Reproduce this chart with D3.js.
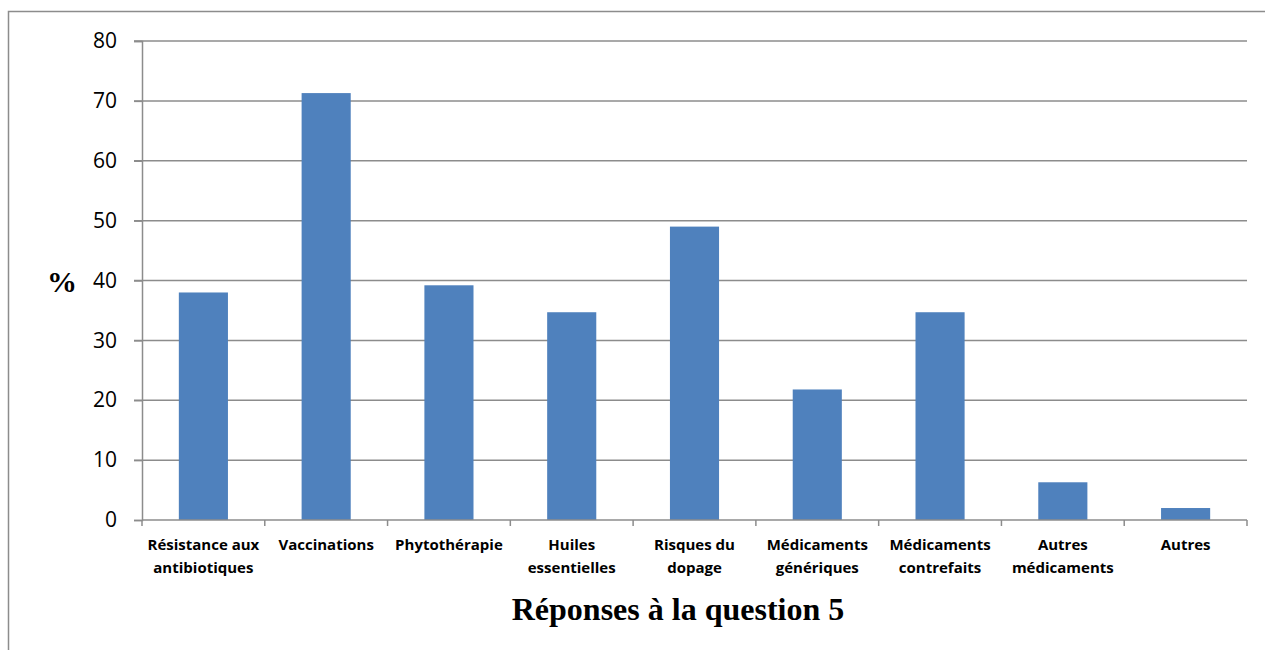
<!DOCTYPE html>
<html>
<head>
<meta charset="utf-8">
<script src="https://cdn.jsdelivr.net/npm/d3@7"></script>
<style>
  body { margin: 0; background: #fff; }
  svg { display: block; }
</style>
</head>
<body>
<svg id="chart" width="1265" height="650"></svg>
<script>
// categories (x axis), with line breaks as in the picture
const categories = [
    ["Résistance aux", "antibiotiques"],
    ["Vaccinations"],
    ["Phytothérapie"],
    ["Huiles", "essentielles"],
    ["Risques du", "dopage"],
    ["Médicaments", "génériques"],
    ["Médicaments", "contrefaits"],
    ["Autres", "médicaments"],
    ["Autres"]
];
const values = [38, 71.3, 39.2, 34.7, 49, 21.8, 34.7, 6.3, 2];
const yTicks = [0, 10, 20, 30, 40, 50, 60, 70, 80];
const title = "Réponses à la question 5";

let svg = d3.select("#chart");

// outer frame
svg.append("rect")
    .attr("x", 8.5).attr("y", 11.5)
    .attr("width", 1270).attr("height", 650)
    .attr("fill", "none")
    .attr("stroke", "#8c8c8c")
    .attr("stroke-width", 1.5);

let plotLeft = 142, plotRight = 1247, plotTop = 41, plotBottom = 520;

let x = d3.scaleBand()
    .domain(d3.range(categories.length))
    .range([plotLeft, plotRight])
    .paddingInner(0.6)
    .paddingOuter(0.3);

let y = d3.scaleLinear()
    .domain([0, 80])
    .range([plotBottom, plotTop]);

// gridlines
svg.append("g")
    .selectAll("line")
    .data(yTicks.filter(d => d > 0))
    .join("line")
    .attr("x1", plotLeft - 8).attr("x2", plotRight)
    .attr("y1", d => y(d)).attr("y2", d => y(d))
    .attr("stroke", "#8c8c8c")
    .attr("stroke-width", 1.5);

// bars
svg.append("g")
    .selectAll("rect")
    .data(values)
    .join("rect")
    .attr("x", (d, i) => x(i))
    .attr("y", d => y(d))
    .attr("width", x.bandwidth())
    .attr("height", d => plotBottom - y(d))
    .attr("fill", "#4f81bd");

// y axis
let yAxis = svg.append("g")
    .attr("transform", `translate(${plotLeft},0)`)
    .call(d3.axisLeft(y).tickValues(yTicks).tickSize(8).tickPadding(17));
yAxis.select(".domain").attr("stroke", "#8c8c8c").attr("stroke-width", 1.5);
yAxis.selectAll(".tick line").attr("stroke", "#8c8c8c").attr("stroke-width", 1.5);
yAxis.selectAll(".tick text")
    .attr("font-family", "'Open Sans', sans-serif")
    .attr("font-size", 21)
    .attr("fill", "#000");

// x axis (ticks at band boundaries)
let n = categories.length;
let xBase = svg.append("g");
xBase.append("line")
    .attr("x1", plotLeft).attr("x2", plotRight)
    .attr("y1", plotBottom).attr("y2", plotBottom)
    .attr("stroke", "#8c8c8c").attr("stroke-width", 1.5);
xBase.selectAll("line.tk")
    .data(d3.range(n + 1))
    .join("line")
    .attr("class", "tk")
    .attr("x1", d => plotLeft + d * (plotRight - plotLeft) / n)
    .attr("x2", d => plotLeft + d * (plotRight - plotLeft) / n)
    .attr("y1", plotBottom).attr("y2", plotBottom + 6)
    .attr("stroke", "#8c8c8c").attr("stroke-width", 1.5);

let labels = xBase.selectAll("text.cat")
    .data(categories)
    .join("text")
    .attr("class", "cat")
    .attr("text-anchor", "middle")
    .attr("font-family", "'Open Sans', sans-serif")
    .attr("font-weight", "bold")
    .attr("font-size", 15)
    .attr("fill", "#000");
labels.each(function (lines, i) {
    let t = d3.select(this);
    lines.forEach(function (ln, k) {
        t.append("tspan")
            .attr("x", x(i) + x.bandwidth() / 2)
            .attr("y", 550 + k * 23)
            .text(ln);
    });
});

// y label
svg.append("text")
    .attr("x", 62).attr("y", 292)
    .attr("text-anchor", "middle")
    .attr("font-family", "'Liberation Serif', serif")
    .attr("font-weight", "bold")
    .attr("font-size", 30)
    .text("%");

// title
svg.append("text")
    .attr("x", 678).attr("y", 620)
    .attr("text-anchor", "middle")
    .attr("font-family", "'Liberation Serif', serif")
    .attr("font-weight", "bold")
    .attr("font-size", 32)
    .text(title);
</script>
</body>
</html>
